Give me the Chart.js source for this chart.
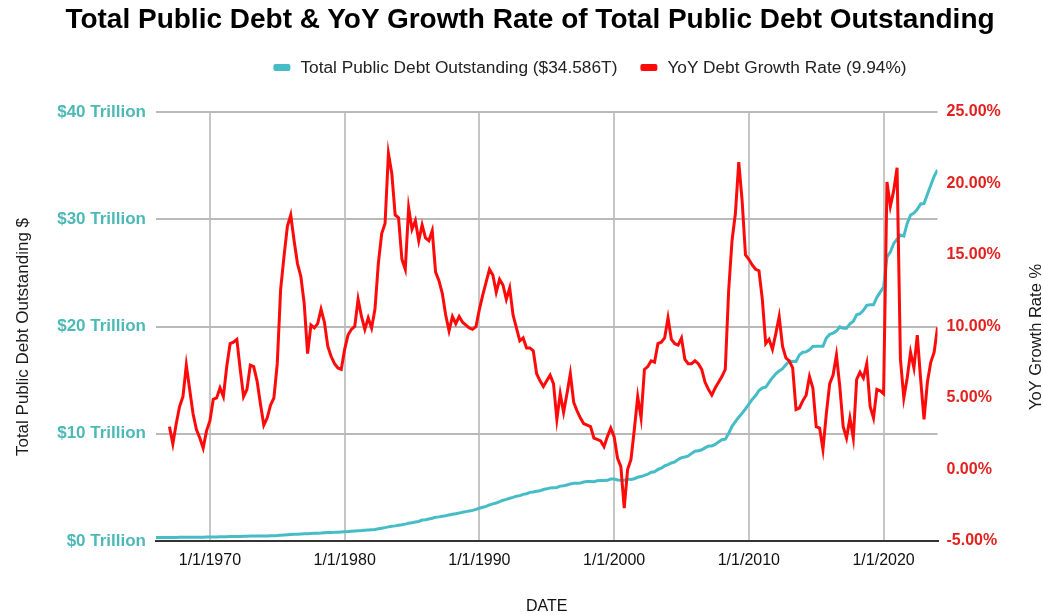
<!DOCTYPE html>
<html>
<head>
<meta charset="utf-8">
<title>Total Public Debt & YoY Growth Rate</title>
<script src="https://cdn.jsdelivr.net/npm/chart.js@4.4.1/dist/chart.umd.min.js"></script>
<style>
  html, body { margin: 0; padding: 0; background: #ffffff; }
  #wrap { position: relative; width: 1043px; height: 615px; overflow: hidden;
          font-family: "Liberation Sans", Arial, sans-serif; }
  #chart { position: absolute; left: 0; top: 0; }
  #title { position: absolute; left: 530px; top: 5px; transform: translateX(-50%);
           white-space: nowrap; font-weight: bold; font-size: 28px; line-height: 28px; color: #000; }
  #legend { position: absolute; left: 590px; top: 58px; transform: translateX(-50%);
            display: flex; align-items: center; white-space: nowrap;
            font-size: 17.3px; line-height: 18px; color: #222; }
  .swatch { width: 17px; height: 7px; border-radius: 2px; margin-right: 10px; }
  .item { display: flex; align-items: center; }
  .item + .item { margin-left: 23px; }
</style>
</head>
<body>
<div id="wrap">
  <canvas id="chart" width="1043" height="615"></canvas>
  <div id="title">Total Public Debt &amp; YoY Growth Rate of Total Public Debt Outstanding</div>
  <div id="legend"></div>
</div>
<script>
// Quarterly series, first value at January 1 of the start year
const firstDebtYear = 1966;
const debtTrillions = [
  0.321, 0.317, 0.324, 0.329,   // 1966
  0.330, 0.323, 0.336, 0.344,   // 1967
  0.347, 0.348, 0.355, 0.358,   // 1968
  0.360, 0.353, 0.361, 0.367,   // 1969
  0.372, 0.370, 0.381, 0.389,   // 1970
  0.391, 0.399, 0.413, 0.424,   // 1971
  0.428, 0.427, 0.436, 0.449,   // 1972
  0.458, 0.458, 0.465, 0.469,   // 1973
  0.475, 0.474, 0.481, 0.492,   // 1974
  0.509, 0.533, 0.554, 0.577,   // 1975
  0.598, 0.620, 0.634, 0.653,   // 1976
  0.666, 0.670, 0.699, 0.718,   // 1977
  0.733, 0.743, 0.772, 0.789,   // 1978
  0.797, 0.805, 0.826, 0.844,   // 1979
  0.864, 0.878, 0.908, 0.936,   // 1980
  0.964, 0.971, 0.998, 1.030,   // 1981
  1.058, 1.082, 1.143, 1.197,   // 1982
  1.245, 1.319, 1.377, 1.410,   // 1983
  1.462, 1.512, 1.572, 1.663,   // 1984
  1.710, 1.774, 1.823, 1.950,   // 1985
  1.990, 2.059, 2.125, 2.214,   // 1986
  2.250, 2.310, 2.350, 2.432,   // 1987
  2.493, 2.547, 2.602, 2.684,   // 1988
  2.740, 2.799, 2.857, 2.953,   // 1989
  3.052, 3.143, 3.233, 3.364,   // 1990
  3.465, 3.538, 3.665, 3.801,   // 1991
  3.881, 3.985, 4.065, 4.177,   // 1992
  4.230, 4.352, 4.412, 4.536,   // 1993
  4.575, 4.646, 4.693, 4.800,   // 1994
  4.864, 4.951, 4.974, 4.989,   // 1995
  5.117, 5.161, 5.225, 5.323,   // 1996
  5.381, 5.376, 5.413, 5.502,   // 1997
  5.542, 5.548, 5.526, 5.614,   // 1998
  5.651, 5.639, 5.656, 5.776,   // 1999
  5.773, 5.686, 5.674, 5.662,   // 2000
  5.774, 5.727, 5.807, 5.943,   // 2001
  6.006, 6.126, 6.228, 6.405,   // 2002
  6.460, 6.670, 6.783, 6.998,   // 2003
  7.131, 7.274, 7.379, 7.596,   // 2004
  7.777, 7.836, 7.933, 8.170,   // 2005
  8.371, 8.420, 8.507, 8.680,   // 2006
  8.849, 8.867, 9.008, 9.229,   // 2007
  9.438, 9.492, 10.025, 10.700, // 2008
  11.127, 11.545, 11.910, 12.311, // 2009
  12.773, 13.202, 13.562, 14.025, // 2010
  14.270, 14.343, 14.790, 15.223, // 2011
  15.582, 15.856, 16.066, 16.433, // 2012
  16.771, 16.738, 16.738, 17.352, // 2013
  17.601, 17.633, 17.824, 18.141, // 2014
  18.152, 18.152, 18.151, 18.922, // 2015
  19.264, 19.381, 19.573, 19.977, // 2016
  19.846, 19.845, 20.245, 20.493, // 2017
  21.089, 21.195, 21.516, 21.974, // 2018
  22.028, 22.023, 22.719, 23.201, // 2019
  23.686, 26.477, 26.945, 27.748, // 2020
  28.133, 28.529, 28.429, 29.617, // 2021
  30.401, 30.568, 30.929, 31.420, // 2022
  31.458, 32.332, 33.167, 34.001, // 2023
  34.586                          // 2024
];

const firstGrowthYear = 1967;
const yoyGrowthPct = [
  3.0, 1.8, 3.2, 4.4,      // 1967
  5.1, 7.3, 5.6, 3.9,      // 1968
  2.8, 2.2, 1.5, 2.7,      // 1969
  3.4, 4.9, 5.0, 5.7,      // 1970
  5.1, 7.2, 8.8, 8.9,      // 1971
  9.1, 7.0, 5.1, 5.6,      // 1972
  7.3, 7.2, 6.2, 4.6,      // 1973
  3.1, 3.6, 4.5, 5.0,      // 1974
  7.4, 12.6, 14.9, 17.0,   // 1975
  17.8, 16.0, 14.4, 13.5,  // 1976
  11.6, 8.1, 10.1, 9.9,    // 1977
  10.2, 11.2, 10.3, 8.6,   // 1978
  7.9, 7.4, 7.1, 7.0,      // 1979
  8.4, 9.4, 9.8, 10.0,     // 1980
  11.9, 10.7, 9.8, 10.6,   // 1981
  9.9, 11.2, 14.4, 16.5,   // 1982
  17.2, 22.1, 20.7, 17.8,  // 1983
  17.6, 14.7, 14.0, 18.3,  // 1984
  16.8, 17.4, 16.0, 17.1,  // 1985
  16.2, 16.0, 16.7, 13.8,  // 1986
  13.2, 12.3, 10.8, 9.7,   // 1987
  10.7, 10.2, 10.7, 10.3,  // 1988
  10.1, 9.9, 9.8, 10.0,    // 1989
  11.2, 12.2, 13.1, 14.0,  // 1990
  13.6, 12.4, 13.3, 12.9,  // 1991
  11.9, 12.7, 10.8, 9.9,   // 1992
  9.0, 9.2, 8.5, 8.5,      // 1993
  8.3, 6.7, 6.2, 5.8,      // 1994
  6.2, 6.6, 6.0, 3.5,      // 1995
  5.3, 4.0, 5.3, 6.7,      // 1996
  4.7, 4.1, 3.6, 3.2,      // 1997
  3.1, 3.0, 2.2, 2.1,      // 1998
  2.0, 1.6, 2.3, 2.9,      // 1999
  2.3, 0.8, 0.2, -2.7,     // 2000
  0.0, 0.7, 2.8, 5.1,      // 2001
  3.6, 7.0, 7.2, 7.6,      // 2002
  7.5, 8.8, 8.9, 9.2,      // 2003
  10.6, 9.1, 8.8, 8.7,     // 2004
  9.2, 7.7, 7.4, 7.4,      // 2005
  7.6, 7.4, 7.0, 6.1,      // 2006
  5.6, 5.2, 5.7, 6.1,      // 2007
  6.5, 7.0, 12.5, 16.0,    // 2008
  17.9, 21.5, 18.8, 15.0,  // 2009
  14.7, 14.3, 14.0, 13.9,  // 2010
  11.9, 8.8, 9.1, 8.4,     // 2011
  9.5, 10.7, 8.6, 7.8,     // 2012
  7.6, 7.1, 4.2, 4.3,      // 2013
  4.8, 5.2, 6.5, 5.7,      // 2014
  3.0, 2.9, 1.4, 3.9,      // 2015
  6.0, 6.6, 8.0, 5.8,      // 2016
  3.0, 2.2, 3.6, 2.2,      // 2017
  6.3, 6.8, 6.4, 7.4,      // 2018
  4.4, 3.6, 5.6, 5.5,      // 2019
  5.3, 20.1, 18.4, 19.5,   // 2020
  21.1, 7.7, 5.0, 6.4,     // 2021
  8.2, 7.1, 9.4, 6.3,      // 2022
  3.5, 6.1, 7.5, 8.2,      // 2023
  9.94                     // 2024
];

const dateTickYears = [1970, 1980, 1990, 2000, 2010, 2020];
const debtTickValues = [0, 10, 20, 30, 40];
const growthTickValues = [-5, 0, 5, 10, 15, 20, 25];

const debtLabel = 'Total Public Debt Outstanding';
const growthLabel = 'YoY Debt Growth Rate';
const debtAxisTitle = 'Total Public Debt Outstanding $';
const growthAxisTitle = 'YoY Growth Rate %';
const dateAxisTitle = 'DATE';

const TEAL = '#46bdc6';
const TEAL_TEXT = '#4cb9b6';
const RED = '#ff0a0a';
const RED_TEXT = '#e3211f';
const FONT = '"Liberation Sans", Arial, sans-serif';

const toPoints = (start, values) => values.map((v, i) => ({ x: start + i / 4, y: v }));

const lastDebt = debtTrillions[debtTrillions.length - 1];
const lastGrowth = yoyGrowthPct[yoyGrowthPct.length - 1];

const datasets = [
  {
    label: debtLabel + ' ($' + lastDebt.toFixed(3) + 'T)',
    data: toPoints(firstDebtYear, debtTrillions),
    yAxisID: 'y',
    borderColor: TEAL,
    backgroundColor: TEAL,
    borderWidth: 3,
    pointRadius: 0,
    tension: 0,
    order: 1
  },
  {
    label: growthLabel + ' (' + lastGrowth.toFixed(2) + '%)',
    data: toPoints(firstGrowthYear, yoyGrowthPct),
    yAxisID: 'y1',
    borderColor: RED,
    backgroundColor: RED,
    borderWidth: 3,
    pointRadius: 0,
    tension: 0,
    order: 0
  }
];

// HTML legend built from the datasets
const legendEl = document.getElementById('legend');
datasets.forEach(ds => {
  const item = document.createElement('div');
  item.className = 'item';
  const sw = document.createElement('div');
  sw.className = 'swatch';
  sw.style.background = ds.borderColor;
  const tx = document.createElement('span');
  tx.textContent = ds.label;
  item.appendChild(sw);
  item.appendChild(tx);
  legendEl.appendChild(item);
});

// Vertical titles for both value axes, read bottom-to-top
const sideTitles = {
  id: 'sideTitles',
  afterDraw(chart) {
    const ctx = chart.ctx;
    const mid = 337;
    ctx.save();
    ctx.fillStyle = '#1a1a1a';
    ctx.textAlign = 'center';
    ctx.textBaseline = 'middle';
    ctx.font = '17px ' + FONT;
    ctx.translate(23, mid);
    ctx.rotate(-Math.PI / 2);
    ctx.fillText(debtAxisTitle, 0, 0);
    ctx.restore();
    ctx.save();
    ctx.fillStyle = '#1a1a1a';
    ctx.textAlign = 'center';
    ctx.textBaseline = 'middle';
    ctx.font = '16.5px ' + FONT;
    ctx.translate(1036, mid);
    ctx.rotate(-Math.PI / 2);
    ctx.fillText(growthAxisTitle, 0, 0);
    ctx.restore();
  }
};

Chart.defaults.font.family = FONT;

new Chart(document.getElementById('chart'), {
  type: 'line',
  data: { datasets },
  plugins: [sideTitles],
  options: {
    responsive: false,
    animation: false,
    devicePixelRatio: 1,
    layout: { padding: { top: 112, left: 0, right: 0, bottom: 0 } },
    plugins: {
      legend: { display: false },
      title: { display: false },
      tooltip: { enabled: false }
    },
    scales: {
      x: {
        type: 'linear',
        min: firstDebtYear,
        max: firstDebtYear + (debtTrillions.length - 1) / 4,
        afterBuildTicks: s => { s.ticks = dateTickYears.map(v => ({ value: v })); },
        afterFit: s => { s.height = 74; },
        ticks: {
          callback: v => '1/1/' + v,
          color: '#111',
          font: { size: 16 },
          padding: 10,
          maxRotation: 0,
          autoSkip: false
        },
        grid: { color: '#c6c6c6', lineWidth: 2, drawTicks: false },
        border: { display: true, color: '#333333', width: 2 },
        title: {
          display: true,
          text: dateAxisTitle,
          color: '#111',
          font: { size: 16, lineHeight: 1 },
          padding: { top: 0, bottom: 0 }
        }
      },
      y: {
        position: 'left',
        min: 0,
        max: 40,
        afterBuildTicks: s => { s.ticks = debtTickValues.map(v => ({ value: v })); },
        afterFit: s => { s.width = 156; },
        ticks: {
          callback: v => '$' + v + ' Trillion',
          color: TEAL_TEXT,
          font: { size: 17, weight: 'bold' },
          padding: 10
        },
        grid: { color: '#b9b9b9', lineWidth: 2, drawTicks: false },
        border: { display: false }
      },
      y1: {
        position: 'right',
        min: -5,
        max: 25,
        afterBuildTicks: s => { s.ticks = growthTickValues.map(v => ({ value: v })); },
        afterFit: s => { s.width = 105.5; },
        ticks: {
          callback: v => v.toFixed(2) + '%',
          color: RED_TEXT,
          font: { size: 16, weight: 'bold' },
          padding: 9
        },
        grid: { display: false, drawOnChartArea: false, drawTicks: false },
        border: { display: false }
      }
    }
  }
});
</script>
</body>
</html>
